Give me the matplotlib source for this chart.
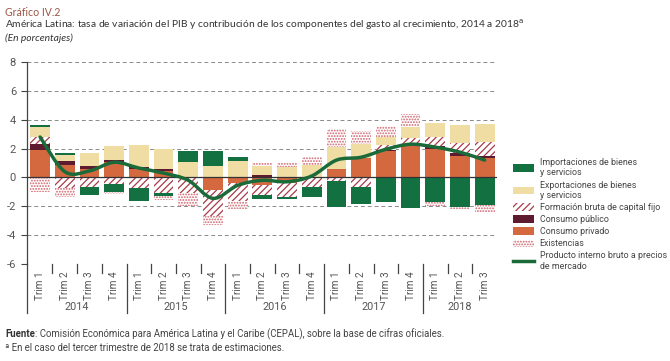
import numpy as np
import matplotlib
matplotlib.use("Agg")
import matplotlib.pyplot as plt
from matplotlib.patches import Patch, PathPatch
from matplotlib.lines import Line2D
from matplotlib.path import Path
from matplotlib.transforms import blended_transform_factory

# Data (contribuciones al crecimiento, en porcentajes)
years = ["2014", "2015", "2016", "2017", "2018"]
quarters = ["Trim 1", "Trim 2", "Trim 3", "Trim 4"] * 4 + ["Trim 1", "Trim 2", "Trim 3"]

consumo_privado = [1.90, 0.87, 0.57, 1.10, 0.55, 0.47, 0.00, -0.87, -0.40, -0.50,
                   -0.40, 0.00, 0.59, 1.33, 1.85, 2.22, 1.95, 1.49, 1.33]
consumo_publico = [0.40, 0.29, 0.23, 0.11, 0.15, 0.13, 0.00, 0.00, 0.06, 0.15,
                   0.05, 0.00, 0.00, 0.00, 0.05, 0.10, 0.23, 0.19, 0.16]
fbkf = [0.50, -0.75, -0.68, -0.45, -0.75, -1.05, -1.10, -1.80, -1.20, -0.70,
        -0.93, -0.68, -0.22, -0.68, 0.35, 0.39, 0.60, 0.72, 0.99]
exportaciones = [0.70, 0.42, 0.88, 0.97, 1.55, 1.35, 1.10, 0.80, 1.10, 0.65,
                 0.66, 0.87, 1.50, 0.99, 0.58, 0.77, 0.97, 1.24, 1.23]
importaciones = [0.12, 0.14, -0.53, -0.53, -0.85, -0.21, 0.70, 1.04, 0.24, -0.28,
                 -0.18, -0.69, -1.80, -1.18, -1.67, -2.14, -1.67, -2.03, -1.90]
existencias = [-1.00, -0.58, 0.00, -0.16, 0.00, -0.30, -0.90, -0.63, -0.60, 0.23,
               0.27, 0.57, 1.27, 0.90, 0.74, 0.90, -0.30, -0.17, -0.55]
pib = [2.80, 0.40, 0.45, 1.05, 0.65, 0.30, -0.20, -1.45, -0.55, -0.20,
       -0.30, 0.10, 1.20, 1.40, 1.95, 2.30, 2.10, 1.75, 1.20]

C_IMP = "#137040"
C_EXP = "#efdda3"
C_PRIV = "#d4693f"
C_PUB = "#5e1a2e"
C_HATCH = "#a83a48"
C_DOTS = "#d0606a"
C_LINE = "#1b6b3a"
H_FBKF = "/////"
H_EXIST = "......"

plt.rcParams["hatch.linewidth"] = 0.9
plt.rcParams["axes.unicode_minus"] = False
plt.rcParams["font.family"] = ["Roboto", "DejaVu Sans"]

W, H = 670, 361
fig = plt.figure(figsize=(6.7, 3.61), dpi=100)
ax = fig.add_axes([26.5 / W, 1 - 264 / H, (497 - 26.5) / W, (264 - 62) / H])

x = np.arange(len(pib))
w = 0.8
series = [
    (consumo_privado, dict(color=C_PRIV)),
    (consumo_publico, dict(color=C_PUB)),
    (fbkf, dict(facecolor="white", edgecolor=C_HATCH, hatch=H_FBKF, linewidth=0)),
    (exportaciones, dict(color=C_EXP)),
    (importaciones, dict(color=C_IMP)),
    (existencias, dict(facecolor="white", edgecolor=C_DOTS, hatch=H_EXIST, linewidth=0)),
]
pos = np.zeros(len(x))
neg = np.zeros(len(x))
for vals, style in series:
    v = np.array(vals)
    bottom = np.where(v >= 0, pos, neg)
    ax.bar(x, v, w, bottom=bottom, zorder=2, **style)
    pos = pos + np.where(v > 0, v, 0)
    neg = neg + np.where(v < 0, v, 0)

# smooth GDP line (Catmull-Rom through the quarterly points)
verts = [(x[0], pib[0])]
codes = [Path.MOVETO]
n = len(x)
for i in range(n - 1):
    p0 = (x[max(i - 1, 0)], pib[max(i - 1, 0)])
    p1 = (x[i], pib[i])
    p2 = (x[i + 1], pib[i + 1])
    p3 = (x[min(i + 2, n - 1)], pib[min(i + 2, n - 1)])
    c1 = (p1[0] + (p2[0] - p0[0]) / 6, p1[1] + (p2[1] - p0[1]) / 6)
    c2 = (p2[0] - (p3[0] - p1[0]) / 6, p2[1] - (p3[1] - p1[1]) / 6)
    verts += [c1, c2, p2]
    codes += [Path.CURVE4] * 3
ax.add_patch(PathPatch(Path(verts, codes), fill=False, edgecolor=C_LINE,
                       linewidth=2.5, capstyle="round", zorder=4))

ax.axhline(0, color="#333333", lw=0.9, zorder=3)
ax.set_ylim(-6, 8)
ax.set_xlim(-0.55, 18.5)
ax.set_yticks(range(-6, 9, 2))
ax.yaxis.grid(True, linestyle=(0, (4, 3)), color="#8a8a8a", lw=0.7)
ax.set_axisbelow(True)
for s in ["top", "right", "bottom"]:
    ax.spines[s].set_visible(False)
ax.spines["left"].set_color("#444444")
ax.spines["left"].set_linewidth(0.9)
ax.tick_params(axis="y", direction="out", length=4, width=0.8, colors="#444444",
               labelsize=8, labelcolor="#555555")
ax.set_xticks(x)
ax.set_xticklabels(quarters, rotation=90, fontsize=7.2, color="#555555", va="top")
ax.tick_params(axis="x", length=0, pad=5)

# separators and year labels under the axis (x in data, y in figure pixels)
trans = blended_transform_factory(ax.transData, fig.transFigure)
y_top = 1 - 264 / H
y_short = 1 - 273 / H
y_long = 1 - 313 / H
for i in range(len(x) - 1):
    xs = i + 0.5
    y_end = y_long if (i + 1) % 4 == 0 else y_short
    ax.plot([xs, xs], [y_top, y_end], transform=trans, color="#444444", lw=0.9, clip_on=False)
ax.plot([-0.55, -0.55], [y_top, y_long], transform=trans, color="#444444", lw=0.9, clip_on=False)
for k, yr in enumerate(years):
    xc = np.mean(x[k * 4:min(k * 4 + 4, len(x))])
    ax.text(xc, 1 - 307 / H, yr, transform=trans, ha="center", va="center",
            fontsize=7.8, color="#555555")

# legend
handles = [
    Patch(facecolor=C_IMP),
    Patch(facecolor=C_EXP),
    Patch(facecolor="white", edgecolor=C_HATCH, hatch=H_FBKF, linewidth=0),
    Patch(facecolor=C_PUB),
    Patch(facecolor=C_PRIV),
    Patch(facecolor="white", edgecolor=C_DOTS, hatch=H_EXIST, linewidth=0),
    Line2D([], [], color=C_LINE, lw=2.5),
]
labels = [
    "Importaciones de bienes\ny servicios",
    "Exportaciones de bienes\ny servicios",
    "Formación bruta de capital fijo",
    "Consumo público",
    "Consumo privado",
    "Existencias",
    "Producto interno bruto a precios\nde mercado",
]
fig.legend(handles, labels, loc="upper left", bbox_to_anchor=(505 / W, 1 - 150 / H),
           frameon=False, fontsize=6.4, handlelength=2.4, handleheight=0.9,
           handletextpad=0.6, labelspacing=0.35, labelcolor="#444444")

# titles
tfam = ["Lato", "DejaVu Sans"]
fig.text(5 / W, 1 - 12 / H, "Gráfico IV.2", fontsize=7.6, color="#9c5546",
         family=tfam, va="center")
fig.text(5 / W, 1 - 25 / H,
         "América Latina: tasa de variación del PIB y contribución de los componentes "
         "del gasto al crecimiento, 2014 a 2018$^{\\mathrm{a}}$",
         fontsize=7.4, color="#333333", family=tfam, va="center")
fig.text(5 / W, 1 - 38 / H, "(En porcentajes)", fontsize=7.4, style="italic",
         color="#333333", family=tfam, va="center")

# footer
fuente = fig.text(5 / W, 1 - 334 / H, "Fuente", fontsize=6.9, weight="bold",
                  color="#333333", va="center")
renderer = fig.canvas.get_renderer()
bb = fuente.get_window_extent(renderer)
fig.text(bb.x1 / fig.bbox.width, 1 - 334 / H,
         ": Comisión Económica para América Latina y el Caribe (CEPAL), sobre la base de cifras oficiales.",
         fontsize=6.9, color="#444444", va="center")
fig.text(5 / W, 1 - 348 / H,
         "ª En el caso del tercer trimestre de 2018 se trata de estimaciones.",
         fontsize=6.9, color="#444444", va="center")

fig.savefig("out.png", dpi=100)
